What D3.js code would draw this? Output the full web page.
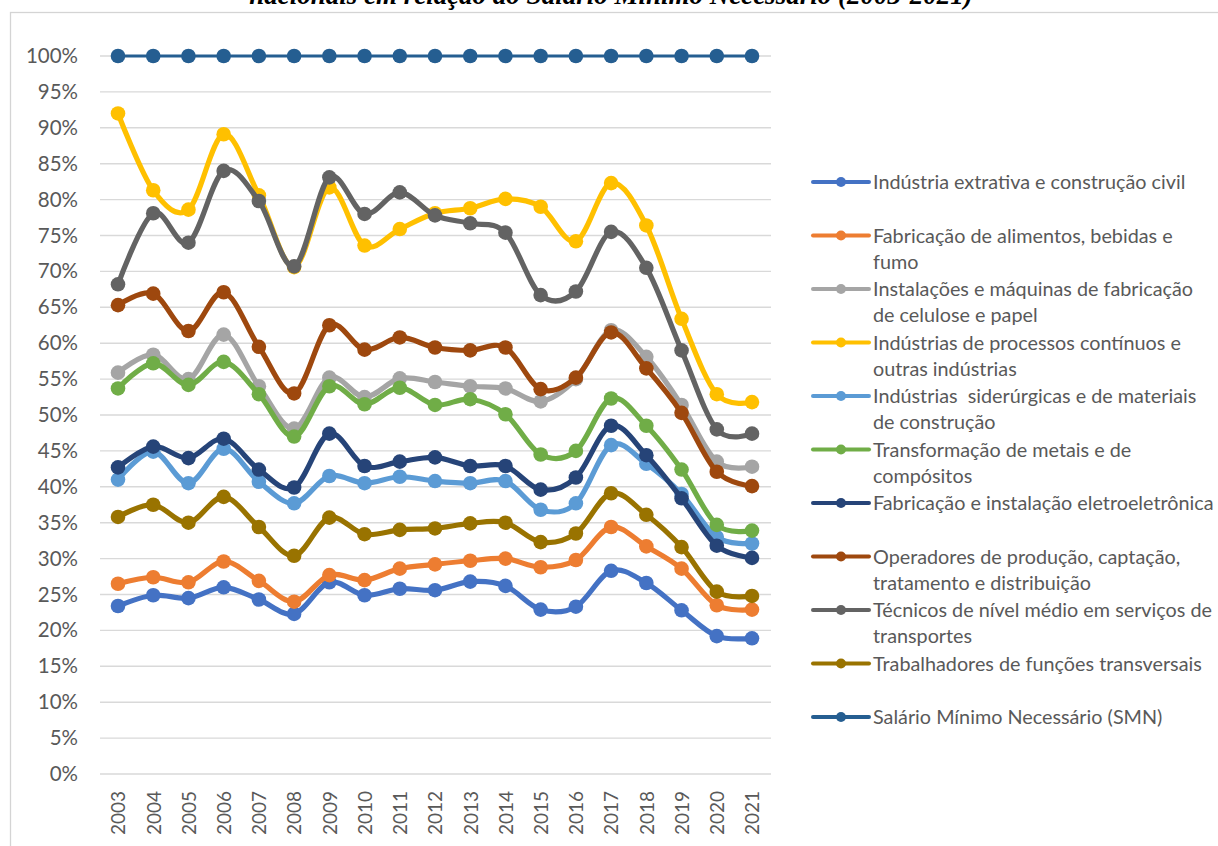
<!DOCTYPE html>
<html lang="pt">
<head>
<meta charset="utf-8">
<script src="https://cdn.jsdelivr.net/npm/d3@7"></script>
<style>
  html, body { margin: 0; padding: 0; background: #ffffff; overflow: hidden; }
  svg { display: block; }
  .lbl { font-family: Lato, "Open Sans", sans-serif; fill: #595959; }
  .title { font-family: "Liberation Serif", "Times New Roman", serif; font-weight: bold; font-style: italic; fill: #000; }
</style>
</head>
<body>
<svg id="chart" width="1218" height="846"></svg>
<script>
// Years on the category axis
const years = ["2003","2004","2005","2006","2007","2008","2009","2010","2011","2012",
               "2013","2014","2015","2016","2017","2018","2019","2020","2021"];

// Y axis tick values (share of the necessary minimum wage)
const yTicks = [0,0.05,0.10,0.15,0.20,0.25,0.30,0.35,0.40,0.45,0.50,0.55,0.60,0.65,0.70,0.75,0.80,0.85,0.90,0.95,1.00];

// Series names (legend order = drawing order)
const seriesNames = [
  ["Indústria extrativa e construção civil"],
  ["Fabricação de alimentos, bebidas e", "fumo"],
  ["Instalações e máquinas de fabricação", "de celulose e papel"],
  ["Indústrias de processos contínuos e", "outras indústrias"],
  ["Indústrias  siderúrgicas e de materiais", "de construção"],
  ["Transformação de metais e de", "compósitos"],
  ["Fabricação e instalação eletroeletrônica"],
  ["Operadores de produção, captação,", "tratamento e distribuição"],
  ["Técnicos de nível médio em serviços de", "transportes"],
  ["Trabalhadores de funções transversais"],
  ["Salário Mínimo Necessário (SMN)"]
];

const seriesColors = ["#4472C4","#ED7D31","#A5A5A5","#FFC000","#5B9BD5","#70AD47",
                      "#264478","#9E480E","#636363","#997300","#255E91"];

// Values in percent of SMN, 2003..2021
const extrativa      = [23.4,24.9,24.5,26.0,24.3,22.3,26.7,24.9,25.8,25.6,26.8,26.2,22.9,23.3,28.3,26.6,22.8,19.2,18.9];
const alimentos      = [26.5,27.4,26.7,29.6,26.9,24.0,27.7,27.0,28.6,29.2,29.7,30.0,28.8,29.8,34.4,31.7,28.6,23.5,22.9];
const celulose       = [55.9,58.4,55.0,61.2,54.0,48.1,55.2,52.5,55.1,54.6,54.0,53.7,51.9,55.0,61.8,58.1,51.4,43.5,42.8];
const processos      = [92.0,81.3,78.6,89.1,80.6,70.6,81.7,73.6,75.9,78.1,78.8,80.1,79.0,74.2,82.3,76.4,63.4,52.9,51.8];
const siderurgicas   = [41.0,44.9,40.5,45.3,40.7,37.7,41.5,40.5,41.4,40.8,40.5,40.8,36.8,37.7,45.8,43.2,39.0,33.0,32.1];
const transformacao  = [53.7,57.2,54.2,57.4,52.9,47.0,54.0,51.5,53.8,51.4,52.2,50.1,44.5,45.0,52.3,48.5,42.4,34.7,33.9];
const eletro         = [42.7,45.6,44.0,46.7,42.4,39.9,47.4,42.9,43.5,44.1,42.9,42.9,39.6,41.3,48.5,44.4,38.4,31.8,30.1];
const operadores     = [65.3,66.9,61.7,67.1,59.5,53.0,62.5,59.1,60.8,59.4,59.0,59.4,53.6,55.2,61.5,56.5,50.3,42.1,40.1];
const tecnicos       = [68.2,78.1,74.0,84.0,79.8,70.7,83.1,78.0,81.0,77.8,76.7,75.4,66.7,67.2,75.5,70.5,59.0,48.0,47.4];
const transversais   = [35.8,37.5,35.0,38.6,34.4,30.4,35.7,33.4,34.0,34.2,34.9,35.0,32.3,33.5,39.1,36.1,31.6,25.4,24.8];
const smn            = [100,100,100,100,100,100,100,100,100,100,100,100,100,100,100,100,100,100,100];

const seriesValues = [extrativa, alimentos, celulose, processos, siderurgicas, transformacao,
                      eletro, operadores, tecnicos, transversais, smn];

const svg = d3.select("#chart");

// Outer chart frame
svg.append("rect")
  .attr("x", 10.5).attr("y", 12.5)
  .attr("width", 1300).attr("height", 900)
  .attr("fill", "none").attr("stroke", "#d4d4d4").attr("stroke-width", 1.3);

// Title (its upper part runs above the page)
svg.append("text").attr("class", "title")
  .attr("x", 611).attr("y", 4)
  .attr("text-anchor", "middle")
  .attr("font-size", 27)
  .text("nacionais em relação ao Salário Mínimo Necessário (2003-2021)");

const x = d3.scalePoint().domain(years).range([118, 752]);
const y = d3.scaleLinear().domain([0, 1]).range([774, 56]);

// Horizontal gridlines
svg.append("g").selectAll("line").data(yTicks).join("line")
  .attr("x1", 100).attr("x2", 771)
  .attr("y1", d => y(d)).attr("y2", d => y(d))
  .attr("stroke", "#d9d9d9").attr("stroke-width", 1.4);

// Y axis labels
const yAxis = d3.axisLeft(y).tickValues(yTicks).tickFormat(d3.format(".0%")).tickSize(0).tickPadding(0);
const gy = svg.append("g").attr("transform", "translate(78,0)").call(yAxis);
gy.select(".domain").remove();
gy.selectAll("text").attr("font-size", 20.5).attr("fill", "#595959")
  .attr("font-family", "Lato, 'Open Sans', sans-serif");

// X axis labels (rotated)
const xAxis = d3.axisBottom(x).tickSize(0).tickPadding(0);
const gx = svg.append("g").attr("transform", "translate(0,791)").call(xAxis);
gx.select(".domain").remove();
gx.selectAll("text")
  .attr("font-size", 19).attr("fill", "#595959")
  .attr("font-family", "Lato, 'Open Sans', sans-serif")
  .attr("text-anchor", "end")
  .attr("transform", "rotate(-90)")
  .attr("x", 0).attr("y", 0).attr("dy", "0.36em");

// Series lines and markers
const line = d3.line()
  .x((d, i) => x(years[i]))
  .y(d => y(d / 100))
  .curve(d3.curveCatmullRom.alpha(0));

seriesValues.forEach((vals, s) => {
  const g = svg.append("g");
  const isRef = s === seriesValues.length - 1;
  g.append("path").datum(vals)
    .attr("d", line)
    .attr("fill", "none")
    .attr("stroke", seriesColors[s])
    .attr("stroke-width", isRef ? 3.2 : 5.2)
    .attr("stroke-linejoin", "round").attr("stroke-linecap", "round");
  g.selectAll("circle").data(vals).join("circle")
    .attr("cx", (d, i) => x(years[i]))
    .attr("cy", d => y(d / 100))
    .attr("r", 7.3)
    .attr("fill", seriesColors[s]);
});

// Legend
const legend = svg.append("g");
seriesNames.forEach((lines, i) => {
  const cy = 182 + i * 53.5;
  const g = legend.append("g");
  g.append("line").attr("x1", 813).attr("x2", 869).attr("y1", cy).attr("y2", cy)
    .attr("stroke", seriesColors[i]).attr("stroke-width", 4).attr("stroke-linecap", "round");
  g.append("circle").attr("cx", 841).attr("cy", cy).attr("r", 5).attr("fill", seriesColors[i]);
  lines.forEach((t, k) => {
    g.append("text").attr("class", "lbl")
      .attr("x", 873).attr("y", cy + k * 26).attr("dy", "0.36em")
      .attr("font-size", 19.8)
      .style("white-space", "pre")
      .text(t);
  });
});
</script>
</body>
</html>
